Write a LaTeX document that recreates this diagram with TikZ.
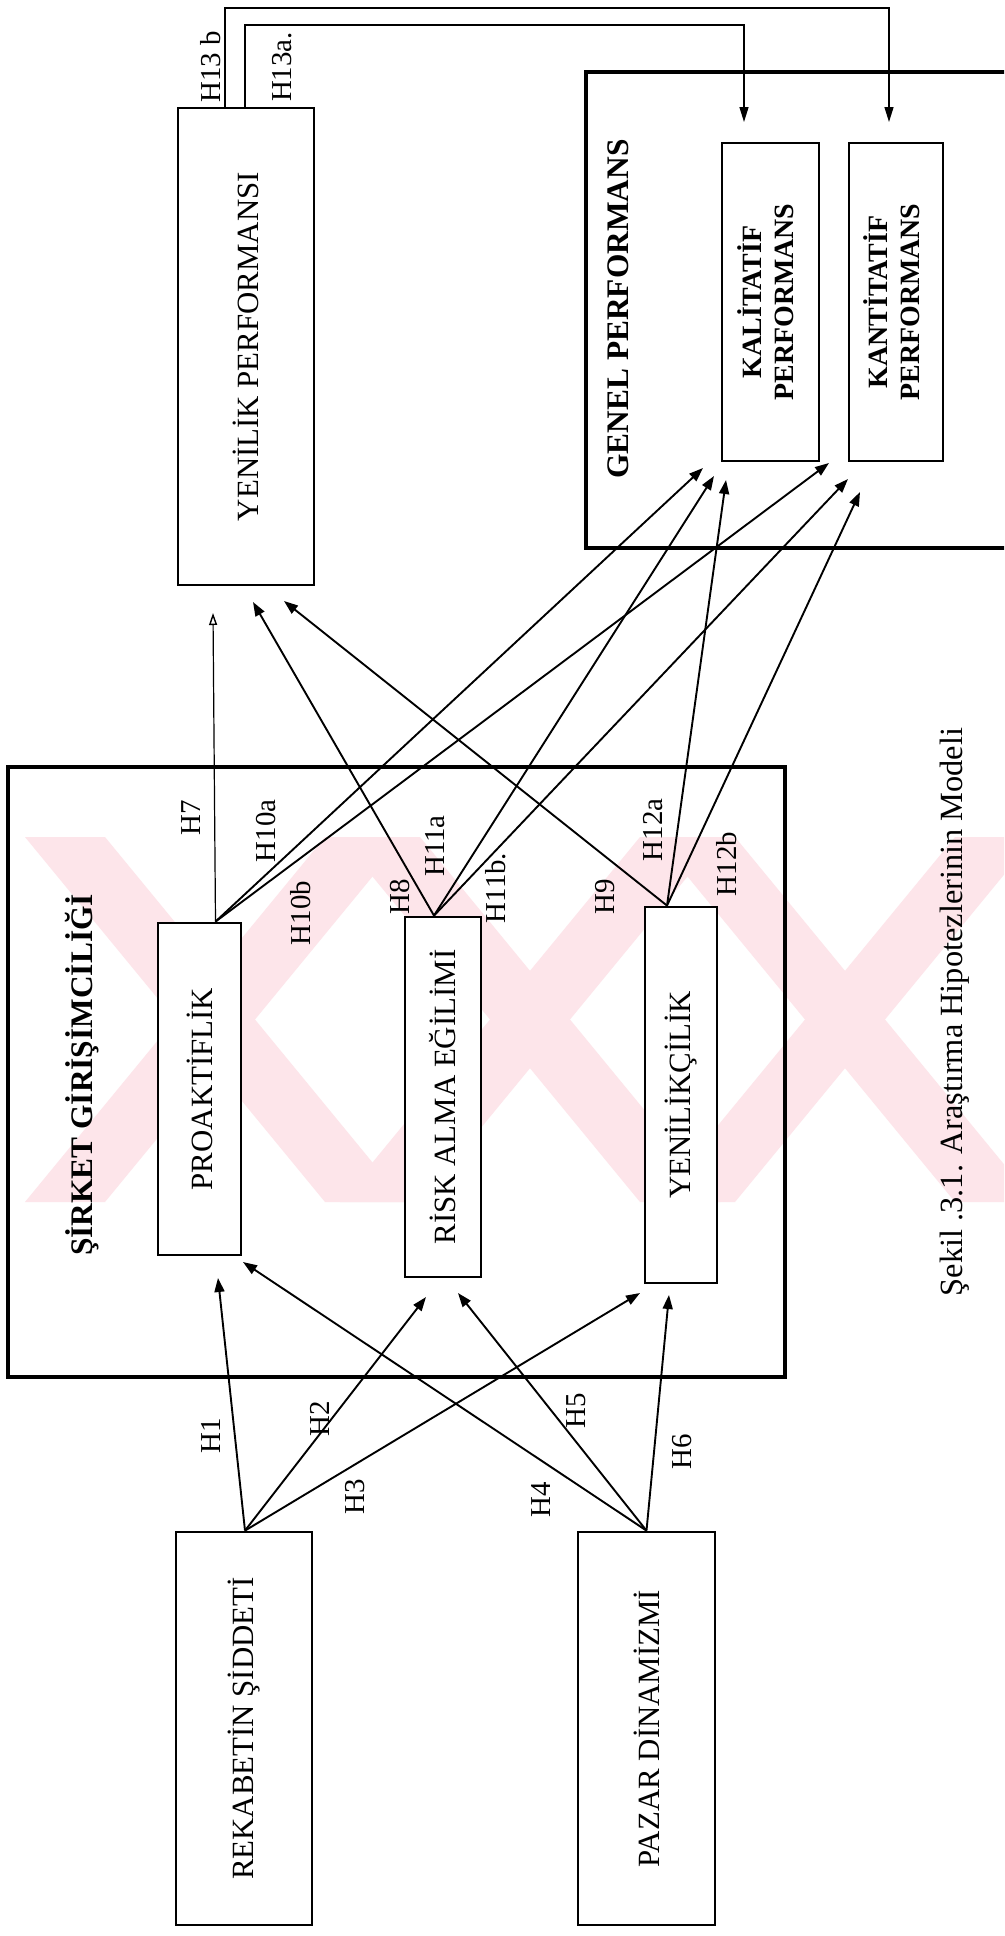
\documentclass[tikz,border=0pt]{standalone}
\usepackage{fontspec}
\usepackage{graphicx}
\setmainfont{Liberation Serif}
\usetikzlibrary{arrows.meta}
\definecolor{wm}{RGB}{253,229,234}
\begin{document}
\begin{tikzpicture}[x=1bp,y=-1bp,
  box/.style={draw,line width=2.8bp,inner sep=0pt,font=\fontsize{31}{36}\selectfont},
  bigbox/.style={draw,line width=4bp,inner sep=0pt},
  smallbox/.style={draw,line width=2.8bp,inner sep=0pt,font=\fontsize{28}{32}\selectfont\bfseries},
  hyp/.style={rotate=90,inner sep=0pt,font=\fontsize{29}{34}\selectfont},
  ttl/.style={rotate=90,inner sep=0pt,font=\fontsize{31.5}{36}\selectfont\bfseries},
  conn/.style={line width=1.9bp,-{Triangle[length=14bp,width=10bp]}},
  openconn/.style={line width=1.2bp,-{Triangle[open,length=12bp,width=8bp,line width=1.4bp]}},
  loopconn/.style={line width=1.4bp,-{Triangle[length=15bp,width=9bp]}}
]
\useasboundingbox (0,0) rectangle (1004,1936);
\clip (0,0) rectangle (1004,1936);
\fill[white] (0,0) rectangle (1004,1936);

% watermark
\foreach \cx in {215,530,845}{
  \fill[wm] ({\cx-190},837) -- ({\cx-110},837) -- ({\cx+190},1202) -- ({\cx+110},1202) -- cycle;
  \fill[wm] ({\cx+110},837) -- ({\cx+190},837) -- ({\cx-110},1202) -- ({\cx-190},1202) -- cycle;
}

% outer group boxes
\node[bigbox,minimum width=777bp,minimum height=610bp] (sirket) at (396.5,1072) {};
\node[bigbox,minimum width=426bp,minimum height=476bp] (genel) at (799,310) {};

% boxes
\node[box,fill=white,minimum width=136bp,minimum height=393bp] (rek) at (244,1728.5) {\rotatebox{90}{REKABETİN ŞİDDETİ}};
\node[box,fill=white,minimum width=137bp,minimum height=393bp] (paz) at (646.5,1728.5) {\rotatebox{90}{PAZAR DİNAMİZMİ}};
\node[box,fill=white,minimum width=83bp,minimum height=332bp] (pro) at (199.5,1089) {\rotatebox{90}{PROAKTİFLİK}};
\node[box,fill=white,minimum width=76bp,minimum height=360bp] (risk) at (443,1097) {\rotatebox{90}{RİSK ALMA EĞİLİMİ}};
\node[box,fill=white,minimum width=72bp,minimum height=376bp] (yen) at (681,1095) {\rotatebox{90}{YENİLİKÇİLİK}};
\node[box,minimum width=136bp,minimum height=477bp] (yp) at (246,346.5) {\rotatebox{90}{YENİLİK PERFORMANSI}};
\node[smallbox,minimum width=97bp,minimum height=318bp] (kal) at (770.5,302) {\rotatebox{90}{\begin{tabular}{@{}c@{}}KALİTATİF\\PERFORMANS\end{tabular}}};
\node[smallbox,minimum width=94bp,minimum height=318bp] (kant) at (896,302) {\rotatebox{90}{\begin{tabular}{@{}c@{}}KANTİTATİF\\PERFORMANS\end{tabular}}};

% titles
\node[ttl] (sirketT) at (82,1075) {ŞİRKET GİRİŞİMCİLİĞİ};
\node[ttl] (genelT) at (618,309) {GENEL PERFORMANS};
\node[rotate=90,inner sep=0pt,font=\fontsize{32.5}{36}\selectfont] (cap) at (955,1012) {Şekil .3.1. Araştırma Hipotezlerinin Modeli};

% arrow tips
\coordinate (tP1) at (218,1278);
\coordinate (tP4) at (243,1262);
\coordinate (tR2) at (426,1297);
\coordinate (tR5) at (458,1293);
\coordinate (tY3) at (640,1293);
\coordinate (tY6) at (669,1295);
\coordinate (tYP7) at (213,613);
\coordinate (tYP8) at (253,602);
\coordinate (tYP9) at (284,601);
\coordinate (tKal10) at (703,468);
\coordinate (tKal11) at (714,476);
\coordinate (tKal12) at (726,480);
\coordinate (tKan10) at (829,463);
\coordinate (tKan11) at (848,479);
\coordinate (tKan12) at (860,492);
\coordinate (c13b) at (889,8);
\coordinate (t13b) at (889,122);
\coordinate (c13a) at (744,25);
\coordinate (t13a) at (744,122);

% antecedents -> dimensions
\draw[conn] ([xshift=1bp]rek.north) -- (tP1);
\draw[conn] ([xshift=1bp]rek.north) -- (tR2);
\draw[conn] ([xshift=1bp]rek.north) -- (tY3);
\draw[conn] (paz.north) -- (tP4);
\draw[conn] (paz.north) -- (tR5);
\draw[conn] (paz.north) -- (tY6);

% dimensions -> outcomes
\draw[openconn] ([xshift=16bp]pro.north) -- (tYP7);
\draw[conn] ([xshift=-9bp]risk.north) -- (tYP8);
\draw[conn] ([xshift=-14bp]yen.north) -- (tYP9);
\draw[conn] ([xshift=16bp]pro.north) -- (tKal10);
\draw[conn] ([xshift=16bp]pro.north) -- (tKan10);
\draw[conn] ([xshift=-9bp]risk.north) -- (tKal11);
\draw[conn] ([xshift=-9bp]risk.north) -- (tKan11);
\draw[conn] ([xshift=-14bp]yen.north) -- (tKal12);
\draw[conn] ([xshift=-14bp]yen.north) -- (tKan12);

% H13 connectors
\draw[loopconn] ([xshift=-21bp]yp.north) |- (c13b) -- (t13b);
\draw[loopconn] ([xshift=-1bp]yp.north) |- (c13a) -- (t13a);

% labels
\node[hyp] (l1) at (211,1436) {H1};
\node[hyp] (l2) at (320,1419) {H2};
\node[hyp] (l3) at (355,1497) {H3};
\node[hyp] (l4) at (541,1500) {H4};
\node[hyp] (l5) at (576,1411) {H5};
\node[hyp] (l6) at (682,1452) {H6};
\node[hyp] (l7) at (191,818) {H7};
\node[hyp] (l10a) at (266,831) {H10a};
\node[hyp] (l10b) at (301,913) {H10b};
\node[hyp] (l8) at (400,897) {H8};
\node[hyp] (l11a) at (435,846) {H11a};
\node[hyp] (l11b) at (496,888) {H11b.};
\node[hyp] (l9) at (605,897) {H9};
\node[hyp] (l12a) at (653,830) {H12a};
\node[hyp] (l12b) at (727,864) {H12b};
\node[hyp] (l13b) at (211,67) {H13 b};
\node[hyp] (l13a) at (282,67) {H13a.};
\end{tikzpicture}
\end{document}
